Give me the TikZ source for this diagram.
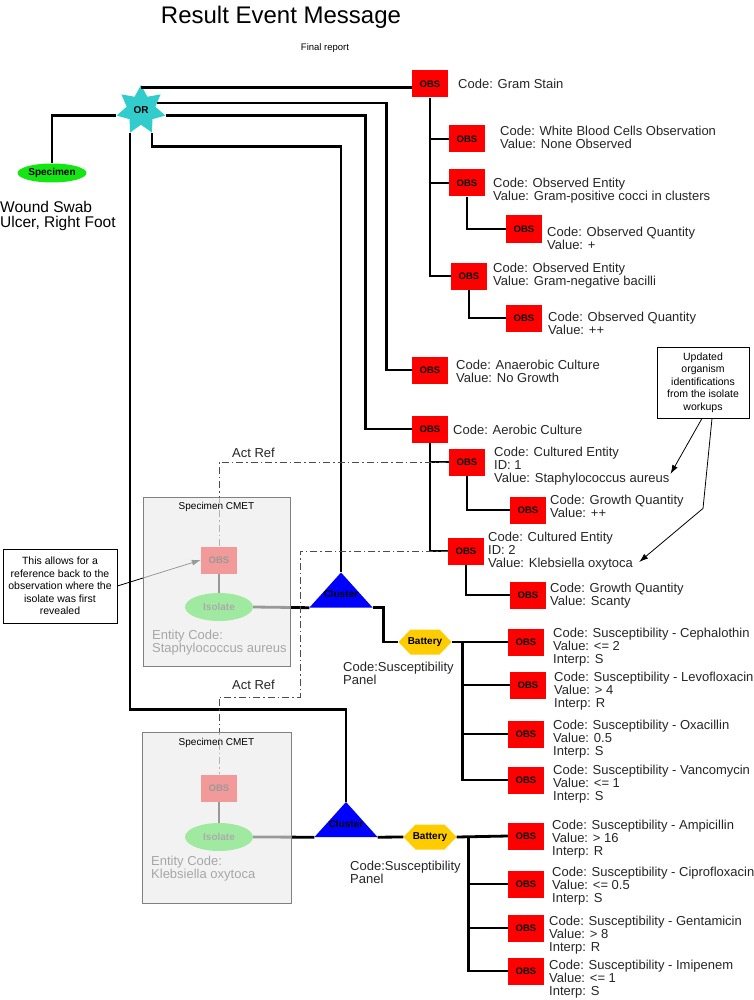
\documentclass[tikz,border=0pt]{standalone}
\usepackage{fontspec}
\setmainfont{Liberation Sans}
\usetikzlibrary{calc,shapes.geometric,arrows.meta}
\definecolor{orcyan}{RGB}{51,204,204}
\definecolor{battyellow}{RGB}{255,204,0}
\definecolor{specgreen}{RGB}{20,230,20}
\definecolor{cmetgray}{RGB}{236,236,236}
\tikzset{
	obs/.style={rectangle,fill=red,minimum width=36pt,minimum height=27pt,inner sep=0pt,font=\bfseries\fontsize{9.5}{10}\selectfont},
	lbl/.style={anchor=west,align=left,inner sep=0pt,text=black!85,font=\fontsize{13}{13}\selectfont},
	link/.style={line width=2.8pt},
	actref/.style={line width=0.9pt,black!70,dash pattern=on 7pt off 3pt on 1.5pt off 3pt},
	note/.style={draw,line width=0.8pt,align=center,inner sep=0pt,font=\fontsize{10.5}{12.5}\selectfont},
	cmet/.style={draw=black!50,line width=1pt,fill=cmetgray,fill opacity=0.65,inner sep=0pt},
	boldlbl/.style={inner sep=0pt,font=\bfseries\fontsize{10}{10}\selectfont},
	clust/.style={boldlbl,minimum width=63pt,minimum height=35pt,text height=15pt,text depth=0pt,
		path picture={\fill[blue](path picture bounding box.south west)--(path picture bounding box.north)--(path picture bounding box.south east)--cycle;}},
	batt/.style={boldlbl,minimum width=53pt,minimum height=25pt,
		path picture={\fill[battyellow](path picture bounding box.west)--([xshift=12pt]path picture bounding box.north west)--([xshift=-12pt]path picture bounding box.north east)--(path picture bounding box.east)--([xshift=-12pt]path picture bounding box.south east)--([xshift=12pt]path picture bounding box.south west)--cycle;}},
	tip/.style={-{Latex[length=9pt,width=6pt]}},
}
\begin{document}
\begin{tikzpicture}[x=1pt,y=-1pt]
	\path[use as bounding box,fill=white](0,0)rectangle(753,1000);
	\node[font=\fontsize{24}{24}\selectfont](title)at(281,17){Result Event Message};
	\node[font=\fontsize{9.5}{10}\selectfont](final)at(325,48){Final report};
	% specimen and OR
	\node[star,star points=7,star point ratio=1.7,minimum size=50pt,boldlbl,fill=orcyan](or)at(141,110){OR};
	\node[ellipse,fill=specgreen,minimum width=69pt,minimum height=19pt,boldlbl](spec)at(52,173){Specimen};
	\node[lbl,font=\fontsize{15.5}{15}\selectfont,text=black](wound)at(0,215.5){Wound Swab\\Ulcer, Right Foot};
	% gram stain
	\node[obs](gram)at(430,84){OBS};
	\node[lbl](graml)at(458,84){Code: Gram Stain};
	\node[obs](wbc)at(467,139){OBS};
	\node[lbl](wbcl)at(500,137.5){Code: White Blood Cells Observation\\Value: None Observed};
	\node[obs](oe1)at(467,183){OBS};
	\node[lbl](oe1l)at(493,191){Code: Observed Entity\\Value: Gram-positive cocci in clusters};
	\node[obs](oq1)at(524,229){OBS};
	\node[lbl](oq1l)at(547,238){Code: Observed Quantity\\Value: +};
	\node[obs](oe2)at(469,276){OBS};
	\node[lbl](oe2l)at(493,275.5){Code: Observed Entity\\Value: Gram-negative bacilli};
	\node[obs](oq2)at(524,318){OBS};
	\node[lbl](oq2l)at(548,323.5){Code: Observed Quantity\\Value: ++};
	% cultures
	\node[obs](anaer)at(430,370){OBS};
	\node[lbl](anaerl)at(456,371.5){Code: Anaerobic Culture\\Value: No Growth};
	\node[obs](aerob)at(430,429){OBS};
	\node[lbl](aerobl)at(453,430){Code: Aerobic Culture};
	\node[obs](ce1)at(467,462){OBS};
	\node[lbl](ce1l)at(494,466){Code: Cultured Entity\\ID: 1\\Value: Staphylococcus aureus};
	\node[obs](gq1)at(528,510){OBS};
	\node[lbl](gq1l)at(550,506.5){Code: Growth Quantity\\Value: ++};
	\node[obs](ce2)at(466,551){OBS};
	\node[lbl](ce2l)at(488,551){Code: Cultured Entity\\ID: 2\\Value: Klebsiella oxytoca};
	\node[obs](gq2)at(528,595){OBS};
	\node[lbl](gq2l)at(550,595.5){Code: Growth Quantity\\Value: Scanty};
	% first isolate
	\node[obs](obsa)at(219,560){OBS};
	\node[ellipse,fill=specgreen,minimum width=68pt,minimum height=28pt,boldlbl,text=black!80](isoa)at(219,607){Isolate};
	\node[lbl](ental)at(152,642.5){Entity Code:\\Staphylococcus aureus};
	\node[clust](clustera)at(341,590){Cluster};
	\node[batt](batta)at(425,642){Battery};
	\node[lbl](panela)at(343,673){Code:Susceptibility\\Panel};
	\node[obs](ceph)at(526,642){OBS};
	\node[lbl](cephl)at(553,647){Code: Susceptibility - Cephalothin\\Value: <= 2\\Interp: S};
	\node[obs](levo)at(528,685){OBS};
	\node[lbl](levol)at(554,691){Code: Susceptibility - Levofloxacin\\Value: > 4\\Interp: R};
	\node[obs](oxa)at(526,734){OBS};
	\node[lbl](oxal)at(553,739){Code: Susceptibility - Oxacillin\\Value: 0.5\\Interp: S};
	\node[obs](vanc)at(526,780){OBS};
	\node[lbl](vancl)at(553,784){Code: Susceptibility - Vancomycin\\Value: <= 1\\Interp: S};
	% second isolate
	\node[obs](obsb)at(219,788){OBS};
	\node[ellipse,fill=specgreen,minimum width=68pt,minimum height=28pt,boldlbl,text=black!80](isob)at(219,837){Isolate};
	\node[lbl](entbl)at(151,868.5){Entity Code:\\Klebsiella oxytoca};
	\node[clust](clusterb)at(346,819.5){Cluster};
	\node[batt](batb)at(430,837){Battery};
	\node[lbl](panelb)at(350,872.5){Code:Susceptibility\\Panel};
	\node[obs](amp)at(526,836){OBS};
	\node[lbl](ampl)at(552,839){Code: Susceptibility - Ampicillin\\Value: > 16\\Interp: R};
	\node[obs](cipr)at(526,884){OBS};
	\node[lbl](ciprl)at(552,886){Code: Susceptibility - Ciprofloxacin\\Value: <= 0.5\\Interp: S};
	\node[obs](gent)at(526,928){OBS};
	\node[lbl](gentl)at(549,935){Code: Susceptibility - Gentamicin\\Value: > 8\\Interp: R};
	\node[obs](imip)at(526,971){OBS};
	\node[lbl](imipl)at(549,979){Code: Susceptibility - Imipenem\\Value: <= 1\\Interp: S};
	% notes
	\node[note,minimum width=114pt,minimum height=74pt](notea)at(60,586){This allows for a\\reference back to the\\observation where the\\isolate was first\\revealed};
	\node[note,minimum width=92pt,minimum height=71pt](noteb)at(703,382.5){Updated\\organism\\identifications\\from the isolate\\workups};
	\node[lbl](acta)at(232,453){Act Ref};
	\node[lbl](actb)at(232,685){Act Ref};
	% links from OR
	\coordinate(ortop)at([yshift=-3pt]or.outer point 1);
	\coordinate(orne)at($(or.center)+(16,-7)$);
	\draw[link](ortop)--(ortop-|gram.west);
	\draw[link](orne)-|($(anaer.west)+(-25,0)$)--(anaer.west);
	\draw[link](or.outer point 6)-|($(aerob.west)+(-46,0)$)--(aerob.west);
	\draw[link](or.outer point 5)--++(0,14)-|(clustera.north);
	\draw[link](or.outer point 4)|-($(clusterb.north)+(0,-92)$)--(clusterb.north);
	\draw[link](or.outer point 3)-|(spec.north);
	% observation trees
	\foreach \o in {wbc,oe1,oe2}
		\draw[link](gram.south)|-(\o.west);
	\draw[link](oe1.south)|-(oq1.west);
	\draw[link](oe2.south)|-(oq2.west);
	\draw[link](aerob.south)|-(ce1.west);
	\draw[link](aerob.south)|-(ce2.west);
	\draw[link](ce1.south)|-(gq1.west);
	\draw[link](ce2.south)|-(gq2.west);
	% susceptibility panels
	\draw[link](isoa.east)--(clustera.south west);
	\draw[link](clustera.south east)-|($(batta.west)+(-15,0)$)--(batta.west);
	\draw[link](batta.east)--(ceph.west);
	\coordinate(bta)at($(batta.east)+(10.5,0)$);
	\foreach \o in {levo,oxa,vanc}
		\draw[link](bta)|-(\o.west);
	\draw[link](isob.east)--(clusterb.south west);
	\draw[link](clusterb.south east)--(batb.west);
	\draw[link](batb.east)--(amp.west);
	\coordinate(btb)at($(batb.east)+(11.5,0)$);
	\foreach \o in {cipr,gent,imip}
		\draw[link](btb)|-(\o.west);
	\draw[link,line width=2pt](obsa.south)--(isoa.north);
	\draw[link,line width=2pt](obsb.south)--(isob.north);
	% act refs
	\coordinate(reftwo)at(300,697);
	\draw[actref](obsa.north)|-(ce1.west);
	\draw[actref](ce2.west)-|(reftwo)-|(obsb.north);
	% note arrows
	\draw[tip,line width=0.8pt](notea.east)--(obsa.west);
	\draw[tip,line width=0.8pt]($(noteb.south)+(-1,0)$)--([xshift=1pt,yshift=-8pt]ce1l.east);
	\draw[tip,line width=0.8pt]($(noteb.south)+(9,0)$)--($(noteb.south)+(0,90)$)--([xshift=6pt,yshift=-11pt]ce2l.east);
	% specimen CMET overlays
	\node[cmet,minimum width=147pt,minimum height=169pt](cmeta)at(216.5,581.5){};
	\node[font=\fontsize{10}{10}\selectfont](cmetal)at(216.5,507){Specimen CMET};
	\node[cmet,minimum width=149pt,minimum height=171pt](cmetb)at(216.5,817.5){};
	\node[font=\fontsize{10}{10}\selectfont](cmetbl)at(216.5,743){Specimen CMET};
\end{tikzpicture}
\end{document}
